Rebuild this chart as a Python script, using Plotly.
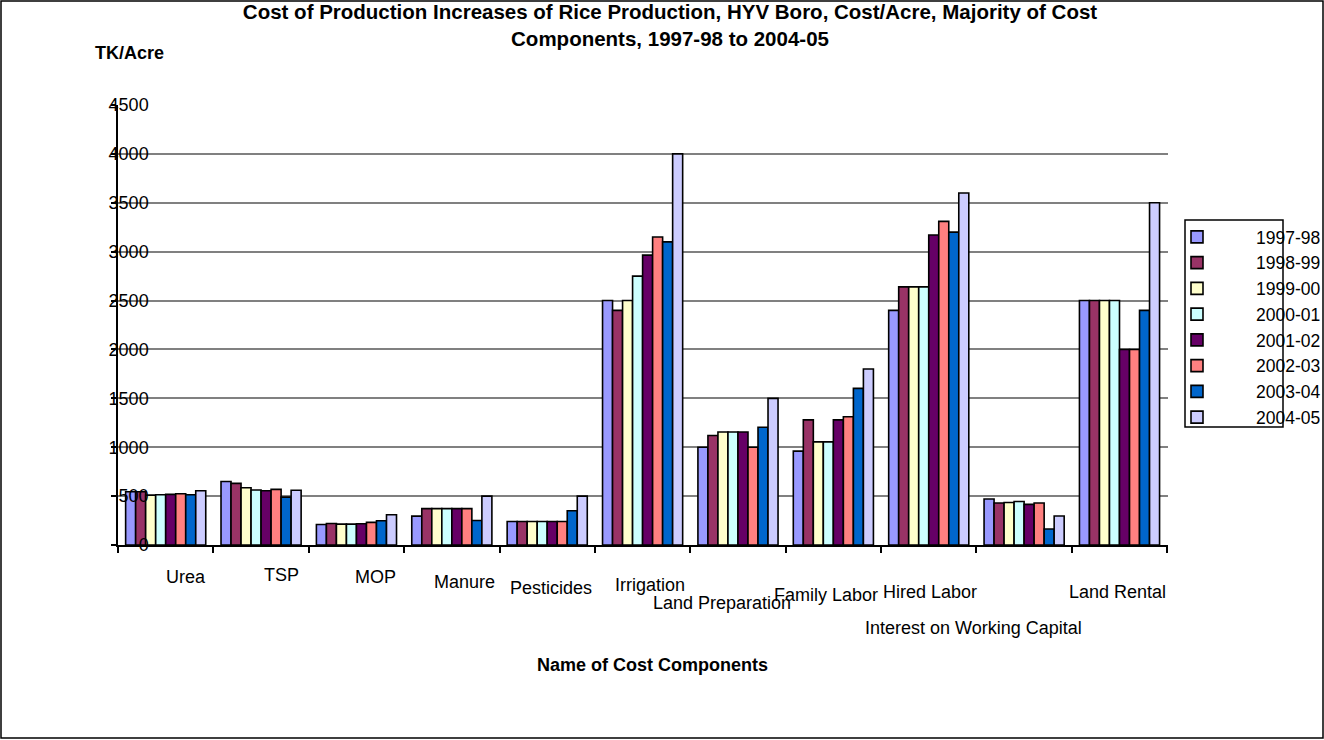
import plotly.graph_objects as go

# Cost components (x categories)
components = [
    "Urea", "TSP", "MOP", "Manure", "Pesticides", "Irrigation",
    "Land Preparation", "Family Labor", "Hired Labor",
    "Interest on Working Capital", "Land Rental",
]

# Crop years (series)
years = ["1997-98", "1998-99", "1999-00", "2000-01",
         "2001-02", "2002-03", "2003-04", "2004-05"]

# Cost per acre (TK) for each year, in component order
cost_1997_98 = [545, 650, 210, 295, 240, 2500, 1000, 960, 2400, 470, 2500]
cost_1998_99 = [545, 630, 220, 372, 240, 2400, 1120, 1280, 2640, 430, 2500]
cost_1999_00 = [510, 585, 214, 372, 240, 2500, 1155, 1055, 2640, 435, 2500]
cost_2000_01 = [514, 562, 214, 372, 240, 2750, 1155, 1055, 2640, 445, 2500]
cost_2001_02 = [518, 555, 217, 372, 240, 2965, 1155, 1280, 3170, 415, 2000]
cost_2002_03 = [524, 569, 231, 372, 240, 3150, 1000, 1312, 3310, 430, 2000]
cost_2003_04 = [514, 490, 248, 250, 350, 3100, 1205, 1602, 3200, 163, 2400]
cost_2004_05 = [555, 560, 310, 500, 500, 4000, 1500, 1800, 3600, 296, 3500]

series = [cost_1997_98, cost_1998_99, cost_1999_00, cost_2000_01,
          cost_2001_02, cost_2002_03, cost_2003_04, cost_2004_05]

colors = ["#9999FF", "#993366", "#FFFFCC", "#CCFFFF",
          "#660066", "#FF8080", "#0066CC", "#CCCCFF"]

FONT = "Arial, Liberation Sans, sans-serif"

# Figure geometry (pixels)
W, H = 1324, 740
L, R, T, B = 118, 156, 105, 195
PW, PH = W - L - R, H - T - B

# Category label placement: horizontal shift and vertical drop below axis (px)
label_dx = [20, 20, 19, 13, 4, 7, -16, -7, 1, -51, -2]
label_dy = [32, 30, 32, 37, 43, 40, 58, 50, 47, 83, 47]

fig = go.Figure()
for name, vals, col in zip(years, series, colors):
    fig.add_trace(go.Bar(
        x=components, y=vals, name=name,
        marker=dict(color=col, line=dict(color="black", width=1.6)),
    ))

def px_x(p):
    return (p - L) / PW

def px_y(p):
    return (H - B - p) / PH

annotations = []
for comp, dx, dy in zip(components, label_dx, label_dy):
    annotations.append(dict(
        x=comp, xref="x", y=0, yref="paper",
        text=comp, showarrow=False, xanchor="center", yanchor="middle",
        xshift=dx, yshift=-dy,
        font=dict(family=FONT, size=18, color="black"),
    ))

annotations.append(dict(
    x=px_x(129), xref="paper", y=px_y(53), yref="paper",
    text="<b>TK/Acre</b>", showarrow=False, xanchor="center", yanchor="middle",
    font=dict(family=FONT, size=18, color="black"),
))
annotations.append(dict(
    x=px_x(652), xref="paper", y=px_y(665), yref="paper",
    text="<b>Name of Cost Components</b>", showarrow=False,
    xanchor="center", yanchor="middle",
    font=dict(family=FONT, size=18, color="black"),
))

shapes = [
    # outer chart border
    dict(type="rect", xref="paper", yref="paper",
         x0=px_x(1), x1=px_x(W - 1), y0=px_y(H - 2), y1=px_y(1),
         line=dict(color="black", width=1.5), fillcolor="rgba(0,0,0,0)",
         layer="below"),
    # legend frame
    dict(type="rect", xref="paper", yref="paper",
         x0=px_x(1185), x1=px_x(1283), y0=px_y(427), y1=px_y(220),
         line=dict(color="black", width=1.5), fillcolor="rgba(0,0,0,0)"),
]

fig.update_layout(
    width=W, height=H,
    margin=dict(l=L, r=R, t=T, b=B, pad=0, autoexpand=False),
    paper_bgcolor="white", plot_bgcolor="white",
    font=dict(family=FONT, size=18, color="black"),
    title=dict(
        text="<b>Cost of Production Increases of Rice Production, HYV Boro, Cost/Acre, Majority of Cost"
             "<br>Components, 1997-98 to 2004-05</b>",
        x=670 / W, xref="container", xanchor="center",
        y=1 - 19 / H, yref="container", yanchor="top",
        font=dict(family=FONT, size=20.5, color="black"),
    ),
    barmode="group", bargap=0.16, bargroupgap=0,
    showlegend=True,
    legend=dict(
        x=px_x(1138), xanchor="left", y=px_y(219), yanchor="top",
        bgcolor="rgba(0,0,0,0)", borderwidth=0,
        font=dict(family=FONT, size=17.5, color="black"),
        itemwidth=108, tracegroupgap=0,
    ),
    xaxis=dict(
        type="category", showticklabels=False,
        showline=True, linecolor="black", linewidth=1.5,
        ticks="outside", tickson="boundaries", ticklen=6,
        tickcolor="black", tickwidth=1.5,
        showgrid=False, zeroline=False,
    ),
    yaxis=dict(
        range=[0, 4500], dtick=500, tick0=0,
        showline=True, linecolor="black", linewidth=1.5,
        ticks="outside", ticklen=5, tickcolor="black", tickwidth=1.5,
        ticklabelstandoff=-41,
        showgrid=True, gridcolor="#808080", gridwidth=1.5,
        zeroline=False,
        tickfont=dict(family=FONT, size=18, color="black"),
    ),
    annotations=annotations,
    shapes=shapes,
)

fig.write_html("out.html")
